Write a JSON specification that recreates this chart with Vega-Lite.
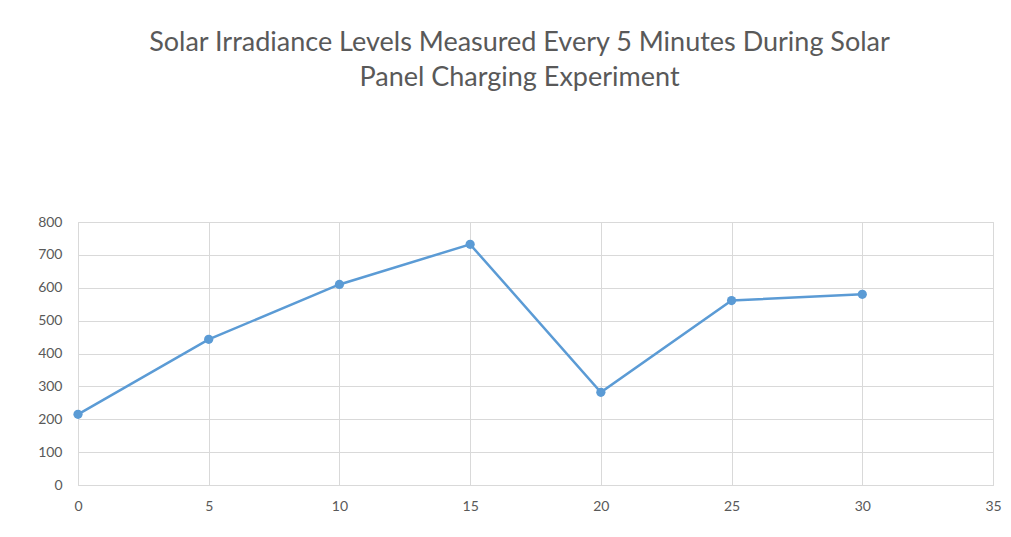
{
  "$schema": "https://vega.github.io/schema/vega-lite/v6.json",
  "width": 915,
  "height": 263,
  "autosize": {"type": "none"},
  "padding": {"left": 78, "top": 222, "right": 18, "bottom": 52},
  "background": "white",
  "title": {
    "text": ["Solar Irradiance Levels Measured Every 5 Minutes During Solar", "Panel Charging Experiment\u00a0\u00a0\u00a0\u00a0\u00a0\u00a0\u00a0\u00a0\u00a0\u00a0\u00a0\u00a0\u00a0\u00a0\u00a0\u00a0\u00a0"],
    "font": "Lato",
    "fontSize": 27,
    "fontWeight": "normal",
    "color": "#595959",
    "anchor": "middle",
    "frame": "group",
    "dx": -16,
    "offset": 123,
    "lineHeight": 35
  },
  "data": {
    "values": [
      {"minute": 0, "irradiance": 215},
      {"minute": 5, "irradiance": 443},
      {"minute": 10, "irradiance": 610},
      {"minute": 15, "irradiance": 732},
      {"minute": 20, "irradiance": 282},
      {"minute": 25, "irradiance": 561},
      {"minute": 30, "irradiance": 580}
    ]
  },
  "mark": {"type": "line", "color": "#5b9bd5", "strokeWidth": 2.5, "point": {"filled": true, "size": 85, "color": "#5b9bd5"}},
  "encoding": {
    "x": {
      "field": "minute",
      "type": "quantitative",
      "scale": {"domain": [0, 35], "nice": false},
      "axis": {"title": null, "values": [0, 5, 10, 15, 20, 25, 30, 35], "grid": true, "gridColor": "#d9d9d9", "ticks": false, "domainColor": "#d9d9d9", "labelColor": "#595959", "labelFont": "Lato", "labelFontSize": 14, "labelPadding": 14, "labelFlush": false}
    },
    "y": {
      "field": "irradiance",
      "type": "quantitative",
      "scale": {"domain": [0, 800], "nice": false},
      "axis": {"title": null, "values": [0, 100, 200, 300, 400, 500, 600, 700, 800], "grid": true, "gridColor": "#d9d9d9", "ticks": false, "domain": false, "labelColor": "#595959", "labelFont": "Lato", "labelFontSize": 14, "labelPadding": 16, "labelFlush": false}
    }
  },
  "config": {"view": {"stroke": "#d9d9d9"}}
}
